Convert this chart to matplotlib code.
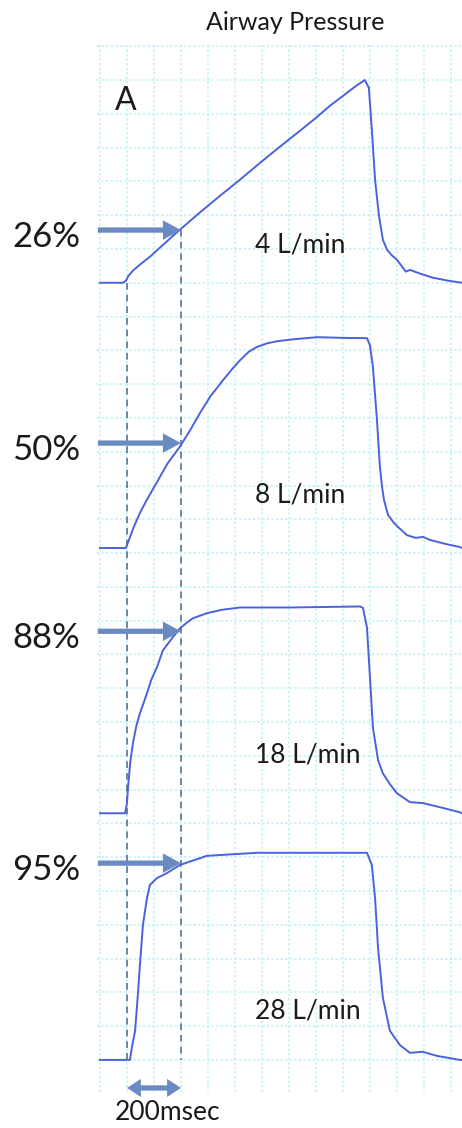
import matplotlib.pyplot as plt
import numpy as np
from matplotlib.patches import FancyArrowPatch

plt.rcParams['font.family'] = ['Lato', 'DejaVu Sans']

# Airway pressure traces, time in ms, pressure in grid divisions above baseline
t_4 = [0, 85, 96, 105, 122, 150, 185, 240, 296, 370, 444, 520, 593, 670,
       741, 800, 852, 900, 944, 981, 996, 1007, 1019, 1033, 1048, 1063, 1080,
       1100, 1133, 1148, 1190, 1233, 1290, 1341]
p_4 = [0, 0, 0.06, 0.2, 0.36, 0.55, 0.77, 1.17, 1.57, 2.08, 2.57, 3.06, 3.55,
       4.05, 4.5, 4.88, 5.24, 5.53, 5.8, 6.0, 5.77, 4.53, 3.05, 2.01, 1.27,
       0.98, 0.82, 0.68, 0.33, 0.38, 0.26, 0.15, 0.06, 0]

t_8 = [0, 96, 110, 125, 148, 175, 211, 250, 296, 335, 370, 410, 456, 490,
       519, 550, 581, 620, 656, 720, 804, 900, 989, 1000, 1011, 1026, 1037,
       1045, 1052, 1067, 1085, 1104, 1137, 1170, 1196, 1222, 1280, 1333, 1341]
p_8 = [0, 0, 0.3, 0.62, 1.04, 1.45, 1.95, 2.5, 3.0, 3.5, 3.99, 4.5, 4.97,
       5.3, 5.56, 5.8, 5.95, 6.06, 6.12, 6.18, 6.24, 6.22, 6.21, 6.0, 5.36,
       3.79, 2.4, 1.8, 1.42, 0.98, 0.78, 0.62, 0.38, 0.3, 0.33, 0.24, 0.12,
       0.03, 0]

t_18 = [0, 93, 100, 104, 112, 122, 135, 148, 174, 190, 211, 233, 267, 296,
        320, 344, 396, 450, 519, 704, 963, 974, 989, 1000, 1011, 1030, 1048,
        1075, 1100, 1148, 1196, 1259, 1333, 1341]
p_18 = [0, 0, 0.3, 0.77, 1.5, 2.07, 2.6, 2.96, 3.55, 3.95, 4.32, 4.82, 5.18,
        5.47, 5.63, 5.77, 5.92, 6.02, 6.09, 6.09, 6.12, 6.08, 5.5, 4.02, 2.54,
        1.57, 1.18, 0.85, 0.59, 0.33, 0.30, 0.18, 0.03, 0]

t_28 = [0, 111, 118, 130, 140, 148, 159, 174, 185, 211, 248, 296, 396, 581,
        989, 1007, 1019, 1030, 1048, 1074, 1111, 1148, 1196, 1248, 1333, 1341]
p_28 = [0, 0, 0.36, 0.86, 1.9, 2.81, 3.99, 4.79, 5.18, 5.38, 5.53, 5.77,
        6.04, 6.13, 6.13, 5.77, 4.79, 3.31, 1.83, 0.86, 0.44, 0.21, 0.24,
        0.12, 0, 0]

traces = [(t_4, p_4), (t_8, p_8), (t_18, p_18), (t_28, p_28)]
flow_labels = ['4 L/min', '8 L/min', '18 L/min', '28 L/min']
pct = [26, 50, 88, 95]
peaks = [6.0, 6.21, 6.12, 6.13]

# layout
baselines = [23.0, 15.15, 7.3, 0.0]
label_dy = [1.12, 1.57, 1.72, 1.45]
t_start, t_mark = 100, 300

line_col = '#4b61df'
arrow_col = '#6a8bc2'
dash_col = '#5c7196'
text_col = '#1a1a1a'

fig = plt.figure(figsize=(4.62, 11.28), dpi=100)
ax = fig.add_axes([0.21, 0.0319, 0.79, 0.928])
ax.set_xlim(-11, 1341)
ax.set_ylim(-0.95, 30.03)

ax.set_xticks(np.arange(0, 1400, 100))
ax.set_yticks(np.arange(0, 31, 1))
ax.grid(True, color='#bdf0f2', linestyle=(0, (1.5, 1.5)), linewidth=1.1)
ax.tick_params(length=0, labelbottom=False, labelleft=False)
for s in ax.spines.values():
    s.set_visible(False)
ax.set_axisbelow(True)

head = 'simple,head_width=14,head_length=13,tail_width=3.8'
for (t, p), base, lab, dy, pc, pk in zip(traces, baselines, flow_labels,
                                        label_dy, pct, peaks):
    ax.plot(t, np.array(p) + base, color=line_col, lw=1.4, zorder=3)
    ax.text(574, base + dy, lab, fontsize=19, va='center', ha='left',
            color=text_col)
    ya = base + pc / 100 * pk
    ax.add_patch(FancyArrowPatch((-8, ya), (t_mark, ya), arrowstyle=head,
                                 color=arrow_col, mutation_scale=1, lw=0,
                                 zorder=4, clip_on=False, shrinkA=0,
                                 shrinkB=0))
    ax.text(-72, ya - 0.2, f'{pc}%', fontsize=25, ha='right', va='center',
            color=text_col, clip_on=False)

# 200 ms reference lines
y_low = baselines[-1]
ax.plot([t_start, t_start], [baselines[0], y_low], color=dash_col, lw=1.2,
        linestyle=(0, (4, 3)), zorder=2)
top_mark = baselines[0] + pct[0] / 100 * peaks[0]
ax.plot([t_mark, t_mark], [top_mark, y_low], color=dash_col, lw=1.2,
        linestyle=(0, (4, 3)), zorder=2)

y_span = -0.83
mid = (t_start + t_mark) / 2
for end in (t_start, t_mark):
    ax.add_patch(FancyArrowPatch((mid, y_span), (end, y_span),
                                 arrowstyle='simple,head_width=13,head_length=10,tail_width=3.8',
                                 color=arrow_col, mutation_scale=1, lw=0,
                                 clip_on=False, shrinkA=0, shrinkB=0))

fig.text(168 / 462, 1 - 1113 / 1128, '200msec', fontsize=19, ha='center',
         va='center', color=text_col)
fig.text(295 / 462, 1 - 22 / 1128, 'Airway Pressure', fontsize=18,
         ha='center', va='center', color=text_col)
fig.text(115 / 462, 1 - 101 / 1128, 'A', fontsize=23, ha='left',
         va='center', color=text_col)

fig.savefig('out.png', dpi=100)
